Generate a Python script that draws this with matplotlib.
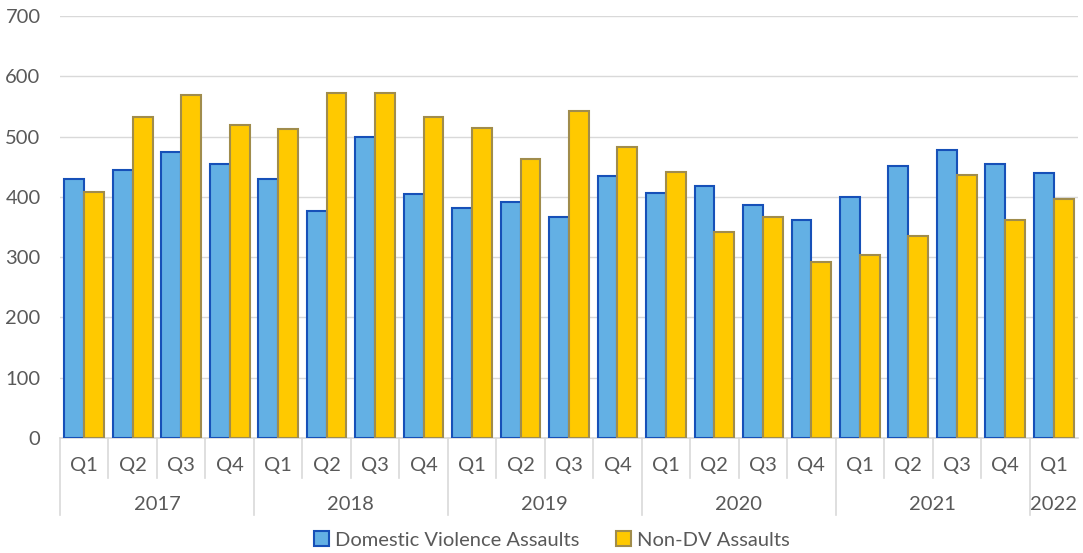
import matplotlib
matplotlib.use("Agg")
import matplotlib.pyplot as plt
import numpy as np
from matplotlib.transforms import blended_transform_factory

plt.rcParams["font.family"] = ["Lato", "DejaVu Sans"]

years = ["2017", "2018", "2019", "2020", "2021", "2022"]
quarters_per_year = [4, 4, 4, 4, 4, 1]
quarter_labels = ["Q1", "Q2", "Q3", "Q4"] * 5 + ["Q1"]

dv_assaults = [430, 444, 475, 455,
               429, 376, 500, 405,
               382, 391, 366, 434,
               407, 418, 386, 361,
               400, 452, 478, 454,
               439]
non_dv_assaults = [408, 533, 569, 520,
                   512, 572, 573, 533,
                   515, 463, 543, 482,
                   442, 341, 366, 292,
                   303, 335, 436, 362,
                   397]

TEXT = "#595959"
GRID = "#d9d9d9"
FS = 14.5

W, H = 1083, 553
fig = plt.figure(figsize=(W / 100, H / 100), dpi=100)
ax = fig.add_axes([60 / W, (H - 438) / H, 1018 / W, 422 / H])

x = np.arange(len(quarter_labels))
bw = 0.41
ax.bar(x - bw / 2, dv_assaults, bw, color="#63b0e4", edgecolor="#1650b8",
       linewidth=1.5, label="Domestic Violence Assaults", zorder=3)
ax.bar(x + bw / 2, non_dv_assaults, bw, color="#ffc900", edgecolor="#a08c4c",
       linewidth=1.5, label="Non-DV Assaults", zorder=3)

ax.set_xlim(-0.5, len(x) - 0.5)
ax.set_ylim(0, 700)
ax.set_yticks(range(0, 701, 100))
ax.yaxis.grid(True, color=GRID, linewidth=1, zorder=0)
ax.tick_params(axis="y", length=0, pad=14, labelsize=FS, labelcolor=TEXT)
ax.set_xticks([])
for s in ["top", "right", "left"]:
    ax.spines[s].set_visible(False)
ax.spines["bottom"].set_color(GRID)
ax.spines["bottom"].set_linewidth(1.2)

# two-level category axis
trans = blended_transform_factory(ax.transData, ax.transAxes)
px = 1 / 422  # one pixel in axes fraction
for i, q in enumerate(quarter_labels):
    ax.text(i, -28 * px, q, transform=trans, ha="center", va="center",
            fontsize=FS, color=TEXT)
bounds = np.concatenate([[0], np.cumsum(quarters_per_year)])
year_edges = set(bounds[:-1])
for i in range(len(x)):
    depth = 77 if i in year_edges else 40
    ax.plot([i - 0.5, i - 0.5], [0, -depth * px], transform=trans,
            color=GRID, linewidth=1.2, clip_on=False)
for y, a, b in zip(years, bounds[:-1], bounds[1:]):
    ax.text((a + b - 1) / 2, -66 * px, y, transform=trans, ha="center",
            va="center", fontsize=FS, color=TEXT)

leg = ax.legend(loc="center", bbox_to_anchor=(0.483, -(540 - 438) * px), ncol=2,
                frameon=False, fontsize=FS, handlelength=0.75, handleheight=0.75,
                handletextpad=0.3, columnspacing=1.8)
for t in leg.get_texts():
    t.set_color(TEXT)

fig.savefig("out.png", dpi=100)
